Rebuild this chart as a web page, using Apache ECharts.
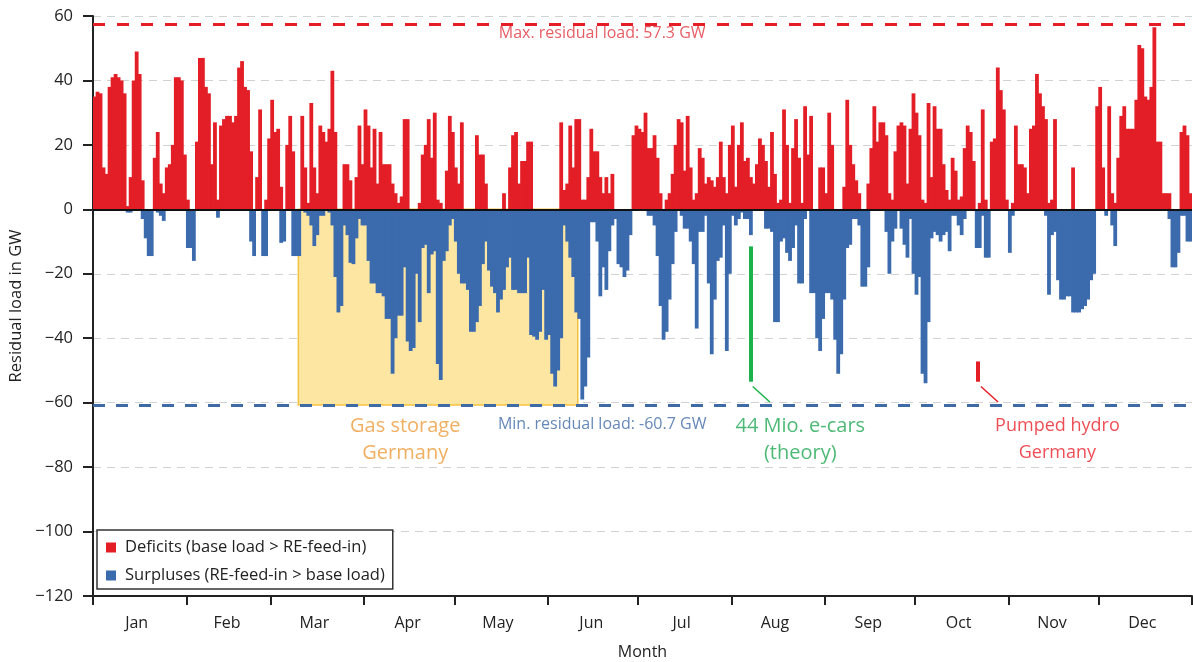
<!DOCTYPE html>
<html><head><meta charset="utf-8">
<script src="https://cdn.jsdelivr.net/npm/echarts@6/dist/echarts.min.js"></script>
<style>html,body{margin:0;padding:0;background:#fff}#c{width:1193px;height:662px}</style>
</head><body><div id="c"></div>
<script>
// ---- data ----
const months = ['Jan','Feb','Mar','Apr','May','Jun','Jul','Aug','Sep','Oct','Nov','Dec'];
const monthDays = [31,28,31,30,31,30,31,31,30,31,30,31];
const yTicks = [-120,-100,-80,-60,-40,-20,0,20,40,60];

// daily maximum of the residual load where it is positive (GW)
const deficits = [
  35,36.5,36,13,11,38,41,42,41,40,
  36,1,10,40,49,42,9,0,0,0,
  16,24,8,5,13,14,20,41,41,40,
  17,3,0,0,21,47,47,38,36,14,
  27,3,26,28,29,29,27,29,44,46,
  38,37,18,0,10,31,0,3,22,34,
  24,25,7,0,20,29,18,0,0,29,
  13,2,33,13,5,26,24,21,25,43,
  24,0,0,14,14,9,0,10,26,14,
  31,26,13,25,8,24,14,14,14,8,
  5,2,4,28,28,0,0,0,2,17,
  20,28,16,30,3,2,0,12,29,24,
  13,8,27,0,0,0,0,23,17,17,
  8,0,0,0,0,0,5,0,13,23,
  24,8,15,15,21,21,0,0,0,0,
  0,0,0,0,0,27,6,8,26,13,
  28,28,3,3,10,25,18,18,10,5,
  10,5,11,0,0,0,0,0,0,23,
  26,25,24,30,19,19,23,16,5,0,
  3,5,11,20,28,27,12,29,13,3,
  5,19,16,8,10,9,7,10,21,10,
  5,20,26,7,20,27,15,16,10,8,
  14,22,20,15,7,24,11,2,3,31,
  20,2,19,28,16,2,32,17,29,0,
  0,13,13,5,30,20,0,0,0,7,
  34,20,14,9,5,0,0,8,19,32,
  21,27,27,23,5,3,18,26,27,26,
  8,25,36,30,23,3,2,33,10,32,
  25,25,14,6,3,16,12,3,4,19,
  26,24,15,0,2,31,3,0,21,22,
  44,37,31,3,0,2,26,14,14,13,
  5,25,26,42,36,32,28,2,3,28,
  0,0,0,0,0,13,0,0,0,0,
  0,0,0,32,38,13,0,32,5,2,
  16,29,32,25,25,25,34,51,50,35,
  34,38,56.5,21,21,5,5,5,0,0,
  0,24,26,23,5
];
// daily minimum of the residual load where it is negative (GW)
const surpluses = [
  0,0,0,0,0,0,0,0,0,0,
  0,-1,-1,0,0,0,-3,-9,-14.5,-14.5,
  0,-1,-2,-3.6,0,0,0,0,0,0,
  0,-12,-12,-16,0,0,0,0,0,0,
  0,-2.6,0,0,0,0,0,0,0,0,
  0,0,-10,-14.5,0,0,-14.5,-14.5,0,0,
  0,0,-10.4,-10,0,0,-14.5,-14.5,-14.5,0,
  -1,-2,-5,-11.4,-8,-2,-2,0,-1,-5,
  -21,-32,-30,-5,-8,-16.6,-17,-9,-3,-5,
  -5,-16,-23,-23,-26,-26,-27,-34,-34,-51,
  -40,-33,-33,-18,-41,-44,-43,-20,-35,-12,
  -11,-26,-14,-13,-48,-53,-16,-13,-5,-3,
  -10,-20,-23,-23,-25,-38,-38,-35,-30,-17,
  -10,-19,-24,-26,-32,-28,-25,-18,-15,-25,
  -25,-26,-26,-26,-15,-39,-39.5,-40.5,-38,-25,
  -40.5,-39,-51,-55,-50,-40,-5,-10,-15,-21,
  -32,-34,-59,-55,-46,-4,-4,-10,-27,-18,
  -25,-13,-5,-3,-17,-18,-21,-19,-8,0,
  0,0,0,0,-2,-2,-5,-14.5,-30,-40.5,
  -38,-28,-17,-7,0,-2,-6,-6,-10,-17,
  -37,-7,-7,-2,-23,-45,-28,-16,-15,-5,
  -44,-20,-2,-5,-3,-1,-3,-3,-8,0,
  0,0,0,-6,-6,-7,-35,-35,-10,-9,
  -13.5,-16,-12,-5,-23,-23,-3,0,-26,-26,
  -40,-44,-34,-26,-26,-28,-40.5,-51,-45,-28,
  -12,-11,-3,-3,-5,-24,-24,-18,0,0,
  0,0,0,-7,-20,-10,-6,0,-6,-11,
  -15,-3,-20,-26.5,-21,-51,-54,-35,-9,-7,
  -8,-10,-8,-7,-13,-2,-2,-5,-8,-3,
  0,0,0,-12,-12,-2,-15,-15,0,0,
  0,0,0,0,-13.5,-2,0,0,0,0,
  0,0,0,0,0,0,-2,-26.5,-8,-7,
  -22,-28,-28,-27,-27,-32,-32,-32,-31,-30,
  -28,-22,-20,0,0,0,-2,0,-5,-11.4,
  0,0,0,0,0,0,0,0,0,0,
  0,0,0,0,0,0,0,-3,-18,-18,
  -13.5,-2,-2,-10,-10
];
const maxResidual = 57.3;
const minResidual = -60.7;
// storage annotations (day of year, GW)
const gasStorageDays = [68.2, 161];
const gasStorageGW = [0, minResidual];
const ecarsDay = 218.3, ecarsGW = [-11.5, -53.5];
const pumpedDay = 294, pumpedGW = [-47.2, -53.5];
const seriesNames = ['Deficits (base load > RE-feed-in)', 'Surpluses (RE-feed-in > base load)'];

// ---- helpers built from data ----
const days = deficits.map((_, i) => String(i));
const monthStart = [];
let acc = 0;
monthDays.forEach(d => { monthStart.push(acc); acc += d; });
const tickSet = new Set(monthStart);
const labelMap = {};
monthStart.forEach((s, i) => { labelMap[s + Math.floor(monthDays[i] / 2) - 1] = months[i]; });

const FONT = 'Open Sans';
const RED = '#E31E26', BLUE = '#3B6BAD';

const chart = echarts.init(document.getElementById('c'), null, {renderer: 'canvas'});
chart.setOption({
  animation: false,
  textStyle: {fontFamily: FONT},
  grid: {left: 93, right: 1, top: 16, bottom: 66, containLabel: false, outerBoundsMode: 'none'},
  legend: {
    data: seriesNames,
    orient: 'vertical', left: 97, top: 530,
    icon: 'rect', itemWidth: 10, itemHeight: 10, itemGap: 11,
    padding: [9, 8, 5, 9],
    borderColor: '#333', borderWidth: 1.5, backgroundColor: '#fff',
    textStyle: {fontSize: 16.5, color: '#222', fontFamily: FONT, padding: [0, 0, 0, 4]}
  },
  xAxis: [{
    type: 'category', data: days, boundaryGap: true,
    name: 'Month', nameLocation: 'middle', nameGap: 48,
    nameTextStyle: {fontSize: 16, color: '#222', fontFamily: FONT},
    axisLine: {onZero: false, lineStyle: {color: '#222', width: 2}},
    axisTick: {show: true, length: 9, lineStyle: {color: '#222', width: 2},
      interval: (idx) => tickSet.has(idx)},
    axisLabel: {show: true, fontSize: 16, color: '#222', margin: 19,
      interval: (idx) => labelMap[idx] !== undefined,
      formatter: (v, idx) => labelMap[idx] || ''},
    splitLine: {show: false}
  }, {
    type: 'value', min: 0, max: 365, show: false
  }],
  yAxis: {
    type: 'value', min: yTicks[0], max: yTicks[yTicks.length - 1], interval: 20,
    name: 'Residual load in GW', nameLocation: 'middle', nameGap: 60, nameRotate: 90,
    nameTextStyle: {fontSize: 16.5, color: '#222', fontFamily: FONT},
    axisLine: {show: true, lineStyle: {color: '#222', width: 2}},
    axisTick: {show: true, length: 10, lineStyle: {color: '#222', width: 2}},
    axisLabel: {fontSize: 16.5, color: '#222', margin: 20,
      formatter: v => String(v).replace('-', '\u2212')},
    splitLine: {show: true, lineStyle: {color: '#d2d2d2', width: 1, type: [8, 6]}}
  },
  series: [
    {
      type: 'line', xAxisIndex: 1, data: [], z: 1, silent: true,
      markArea: {
        silent: true,
        itemStyle: {color: '#FDE6A2', borderColor: '#F3C23E', borderWidth: 1.5},
        data: [[{coord: [gasStorageDays[0], gasStorageGW[0]]}, {coord: [gasStorageDays[1], gasStorageGW[1]]}]]
      }
    },
    {
      name: seriesNames[0], type: 'bar', data: deficits, z: 2,
      barWidth: 3.8, barGap: '-100%', barCategoryGap: 0,
      itemStyle: {color: RED}, silent: true
    },
    {
      name: seriesNames[1], type: 'bar', data: surpluses, z: 2,
      barWidth: 3.8, barGap: '-100%', barCategoryGap: 0,
      itemStyle: {color: BLUE}, silent: true
    },
    {
      type: 'line', xAxisIndex: 1, data: [], z: 5, silent: true,
      markLine: {
        silent: true, symbol: ['none', 'none'], label: {show: false},
        data: [
          {yAxis: 0, lineStyle: {color: '#111', width: 2, type: 'solid'}},
          {yAxis: maxResidual, lineStyle: {color: RED, width: 3, type: [12, 12]}},
          {yAxis: minResidual, lineStyle: {color: '#3E6AA6', width: 3, type: [12, 11]}},
          [{coord: [ecarsDay, ecarsGW[0]], lineStyle: {color: '#1DB14B', width: 4, type: 'solid'}}, {coord: [ecarsDay, ecarsGW[1]]}],
          [{coord: [pumpedDay, pumpedGW[0]], lineStyle: {color: RED, width: 4, type: 'solid'}}, {coord: [pumpedDay, pumpedGW[1]]}],
          [{coord: [ecarsDay + 0.8, -55], lineStyle: {color: '#1DB14B', width: 1.5, type: 'solid'}}, {coord: [ecarsDay + 6.5, -59.8]}],
          [{coord: [pumpedDay + 0.9, -55], lineStyle: {color: RED, width: 1.5, type: 'solid'}}, {coord: [pumpedDay + 6.6, -59.8]}]
        ]
      }
    },
    {
      type: 'scatter', xAxisIndex: 1, z: 6, silent: true,
      symbolSize: 1, itemStyle: {color: 'rgba(0,0,0,0)'},
      label: {show: true, position: 'inside', formatter: p => p.data.text},
      data: [
        {value: [169.1, 54.6], text: 'Max. residual load: ' + maxResidual + ' GW',
          label: {color: '#E0353D', fontSize: 16, fontFamily: FONT}},
        {value: [169.1, -66.8], text: 'Min. residual load: ' + minResidual + ' GW',
          label: {color: '#3E6AA6', fontSize: 16, fontFamily: FONT}},
        {value: [103.7, -71.4], text: 'Gas storage\nGermany',
          label: {color: '#EE9B3B', fontSize: 20, lineHeight: 27, fontFamily: FONT}},
        {value: [234.9, -71.4], text: '44 Mio. e-cars\n(theory)',
          label: {color: '#22A855', fontSize: 20, lineHeight: 27, fontFamily: FONT}},
        {value: [320.3, -71.4], text: 'Pumped hydro\nGermany',
          label: {color: '#E8222B', fontSize: 18, lineHeight: 27, fontFamily: FONT}}
      ]
    }
  ]
});
</script>
</body></html>
